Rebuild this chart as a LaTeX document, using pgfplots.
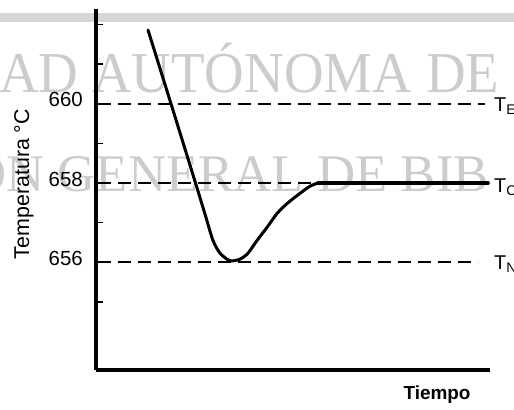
\documentclass[border=0pt]{standalone}
\usepackage{fontspec}
\setmainfont{Liberation Sans}
\newfontfamily\wmfont{Liberation Serif}
\usepackage{pgfplots}
\pgfplotsset{compat=1.18}
\definecolor{wm}{gray}{0.80}
\definecolor{band}{gray}{0.84}
\newcommand{\tl}[1]{\fontsize{20.5}{20.5}\selectfont #1}
\begin{document}
\begin{tikzpicture}
\path[use as bounding box] (0bp,0bp) rectangle (514bp,410bp);
\clip (0bp,0bp) rectangle (514bp,410bp);
% scan watermark
\fill[band] (0bp,388bp) rectangle (514bp,397bp);
\node[anchor=base west, inner sep=0pt, text=wm, xscale=0.95] at (-1bp,317bp) {\fontsize{58}{58}\selectfont\wmfont AD AUTÓNOMA DE};
\node[anchor=base west, inner sep=0pt, text=wm] at (-32bp,218bp) {\fontsize{53}{53}\selectfont\wmfont ÓN GENERAL DE BIB};
\begin{axis}[
  at={(96bp,40bp)}, anchor=south west,
  scale only axis, width=394bp, height=361bp,
  xmin=0, xmax=394, ymin=653.283, ymax=662.39,
  axis x line*=bottom, axis y line*=left,
  axis line style={line width=3bp, black},
  xtick=\empty,
  ytick={655,656,657,658,659,660,661,662},
  yticklabels={,\tl{656},,\tl{658},,\tl{660},,},
  tick align=inside, major tick length=7bp,
  tick style={line width=1.2bp, black},
  y tick label style={anchor=east, inner sep=0pt, yshift=4bp, xshift=-13bp},
  ylabel={Temperatura °C},
  ylabel style={at={(axis description cs:-0.183,0.515)}, anchor=center, font=\fontsize{21.5}{21.5}\selectfont},
  xlabel={\bfseries Tiempo},
  xlabel style={at={(axis description cs:0.8655,-0.069)}, anchor=center, font=\fontsize{19}{19}\selectfont},
  clip=false,
]
\addplot[black, line width=1.6bp, dash pattern=on 13bp off 7bp] coordinates {(2,660) (389,660)};
\addplot[black, line width=1.6bp, dash pattern=on 13bp off 7bp] coordinates {(2,658) (222,658)};
\addplot[black, line width=1.6bp, dash pattern=on 13bp off 7bp] coordinates {(2,656) (382,656)};
\addplot[black, line width=3bp, smooth, tension=0.45, line cap=round] coordinates {
 (52,661.86) (75,660.0) (100,657.96) (110,657.13) (117,656.55) (124,656.23)
 (134,656.04) (144,656.08) (152,656.23) (161,656.55) (171,656.88) (181,657.23)
 (191,657.48) (204,657.74) (214,657.92) (222,658.0)};
\addplot[black, line width=3.6bp, line cap=round] coordinates {(222,658) (392,658)};
\node[anchor=west, inner sep=0pt, font=\fontsize{20}{20}\selectfont] at (axis cs:398,659.95) {T\textsubscript{E}};
\node[anchor=west, inner sep=0pt, font=\fontsize{20}{20}\selectfont] at (axis cs:398,657.9) {T\textsubscript{C}};
\node[anchor=west, inner sep=0pt, font=\fontsize{20}{20}\selectfont] at (axis cs:398,655.95) {T\textsubscript{N}};
\end{axis}
\end{tikzpicture}
\end{document}
